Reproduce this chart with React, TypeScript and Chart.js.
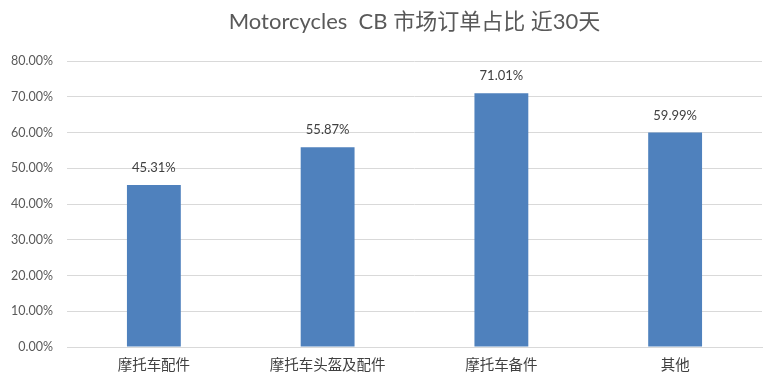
import React, { useEffect, useRef } from "react";
import { Chart, registerables } from "chart.js";

Chart.register(...registerables);

const categories: string[] = ["摩托车配件", "摩托车头盔及配件", "摩托车备件", "其他"];
const shares: number[] = [45.31, 55.87, 71.01, 59.99];
const titleText = "Motorcycles  CB 市场订单占比 近30天";

const FONT = "Lato, 'Noto Sans', 'Noto Sans CJK SC', sans-serif";

const labelPlugin = {
  id: "barLabels",
  afterDatasetsDraw(chart: any) {
    const ctx = chart.ctx;
    const meta = chart.getDatasetMeta(0);
    ctx.save();
    ctx.font = `13px ${FONT}`;
    ctx.fillStyle = "#404040";
    ctx.textAlign = "center";
    ctx.textBaseline = "middle";
    meta.data.forEach((el: any, i: number) => {
      ctx.fillText(shares[i].toFixed(2) + "%", el.x, el.y - 17);
    });
    ctx.restore();
  },
};

export default function App() {
  const ref = useRef<HTMLCanvasElement | null>(null);
  useEffect(() => {
    if (!ref.current) return;
    const chart = new Chart(ref.current, {
      type: "bar",
      data: {
        labels: categories,
        datasets: [
          {
            data: shares,
            backgroundColor: "#4f81bd",
            categoryPercentage: 1,
            barPercentage: 0.31,
          },
        ],
      },
      options: {
        animation: false,
        responsive: false,
        maintainAspectRatio: false,
        layout: { padding: { left: 0, right: 16, top: 0, bottom: 0 } },
        plugins: {
          legend: { display: false },
          tooltip: { enabled: false },
          title: {
            display: true,
            text: titleText,
            fullSize: false,
            color: "#595959",
            font: { family: FONT, size: 22, weight: "normal" },
            padding: { top: 9, bottom: 25.6 },
          },
        },
        scales: {
          x: {
            grid: { display: false, drawTicks: false },
            border: { color: "#d9d9d9" },
            ticks: {
              color: "#404040",
              font: { family: FONT, size: 14.5 },
              padding: 10,
            },
            afterFit: (s: any) => {
              s.height = 37;
            },
          },
          y: {
            min: 0,
            max: 80,
            grid: { color: "#d9d9d9", drawTicks: false },
            border: { display: false },
            ticks: {
              stepSize: 10,
              color: "#595959",
              font: { family: FONT, size: 12.5 },
              padding: 14,
              callback: (v: any) => Number(v).toFixed(2) + "%",
            },
            afterFit: (s: any) => {
              s.width = 67;
            },
          },
        },
      },
      plugins: [labelPlugin],
    });
    return () => chart.destroy();
  }, []);
  return (
    <div style={{ position: "absolute", left: 0, top: 0, width: 778, height: 384, background: "#fff" }}>
      <canvas ref={ref} width={778} height={384} />
    </div>
  );
}
